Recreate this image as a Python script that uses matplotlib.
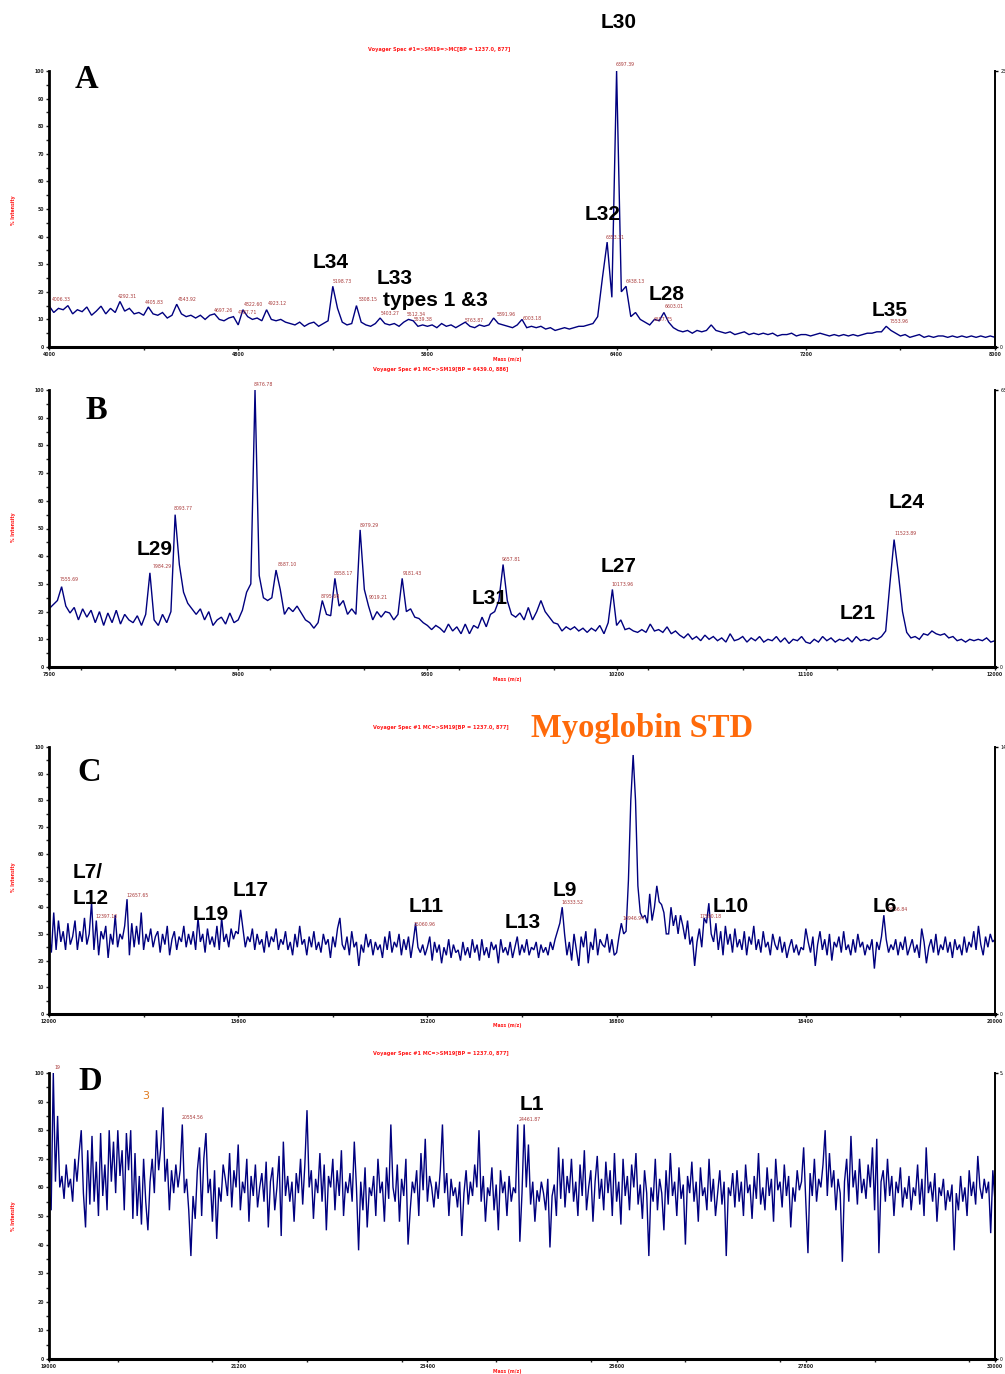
import numpy as np
import matplotlib
matplotlib.use('Agg')
import matplotlib.pyplot as plt
from matplotlib.ticker import MultipleLocator

W, H = 1005, 1374

# ---------------- data (mass start / step, % intensity) ----------------
A_START, A_STEP = 4000, 20
A_INT = [15, 12.5, 14, 13.5, 15, 12, 13.5, 12.8, 14.5, 11.5, 13, 14.8, 12, 14, 12.5, 16.5, 13, 14, 12, 12.5,
         11.5, 14.5, 12, 11.5, 12.5, 10.5, 11.5, 15.5, 12, 11, 11.5, 10.5, 11.5, 10, 11.5, 12, 10, 9.5, 10.5, 11,
         8, 13.5, 11, 10, 10.5, 9.5, 13.5, 10, 9.5, 10, 9, 8.5, 8, 9, 7.5, 8.5, 9, 7.5, 8.5, 9.5,
         22, 14, 9, 8, 8.5, 15, 9, 8, 7.5, 8.5, 10.5, 8.5, 8, 8.5, 7.5, 9, 10, 9.5, 7.5, 8,
         7.5, 8, 7, 8.5, 7.5, 8, 7, 8, 9, 7.5, 7, 8, 7.5, 8, 10.5, 8.5, 8, 7.5, 7, 8,
         10, 7, 7.5, 7, 7.5, 6.5, 7, 6, 6.5, 7, 6.5, 7, 7.5, 7.5, 8, 8.5, 11, 25, 38, 18,
         100, 20, 22, 11, 12.5, 10, 9, 8, 10, 9.5, 12.5, 9, 7, 6, 5.5, 6, 5, 6, 5.5, 6,
         8, 6, 5.5, 5, 5.5, 4.5, 5, 5.5, 4.5, 5, 4.5, 5, 4.5, 5, 4, 4.5, 4.5, 5, 4, 4.5,
         4.5, 4, 4.5, 5, 4.5, 4, 4.5, 4, 4.5, 4, 4.5, 4, 4.5, 5, 5, 5.5, 5.5, 7.5, 6, 5,
         4, 4.5, 3.5, 4, 4.5, 3.5, 4, 3.5, 4, 4, 3.5, 4, 3.5, 4, 3.5, 4, 3.5, 4, 3.5, 4,
         3.5]

B_START, B_STEP = 7500, 20
B_INT = [21, 22.5, 24, 29, 22, 19.5, 21.5, 17, 21, 18, 20.5, 16, 20, 15, 19.5, 16, 20.5, 15.5, 19, 17,
         16, 18.5, 15, 19, 34, 17, 15, 19, 16, 20, 55, 37, 27, 23, 21, 19, 21, 17, 20, 15,
         17, 18, 15.5, 19.5, 16, 17, 20.5, 27, 30, 100, 33, 25, 24, 25, 35, 28, 19, 21.5, 20, 22,
         19.5, 17, 16, 14, 16, 24, 19, 18.5, 32, 22, 24, 19, 21, 19, 49.5, 28, 22, 17, 20, 18,
         20, 19.5, 17, 19, 32, 20, 21, 18, 17.5, 16, 15, 13.5, 15, 14, 12.5, 15.5, 13, 14.5, 12, 15.5,
         12, 15, 14, 18, 14.5, 19, 20, 24, 37, 24, 19, 18, 19.5, 17, 21.5, 17, 20, 24, 20, 18,
         16, 15.5, 13, 14.5, 13.5, 14.5, 13, 14, 12.5, 14, 13, 15, 12, 16, 28, 15, 17, 13.5, 14, 13,
         12.5, 13.5, 12.5, 15.5, 13, 13.5, 12.5, 14.5, 12, 13, 11.5, 10.5, 12, 10, 11, 9.5, 11.5, 10, 11, 9.5,
         10.5, 9, 12, 9.5, 10, 11, 9, 10.5, 9.5, 11, 9, 10, 9.5, 11, 9, 10.5, 8.5, 10, 9.5, 11,
         9, 8.5, 10, 9, 11, 9.5, 10.5, 9, 10, 9.5, 10.5, 9, 11, 9.5, 10, 9.5, 10.5, 10, 11, 13,
         30, 46, 34, 20, 12.5, 10.5, 11, 10, 12, 11.5, 13, 12, 11.5, 12, 10.5, 11, 9.5, 10, 9, 10,
         9.5, 10, 9.5, 10.5, 9, 9.5]

C_START, C_STEP = 12000, 20
C_INT = [30, 23, 38, 24, 35, 27, 31, 24, 34, 26, 29, 35, 24, 31, 27, 36, 26, 30, 42, 24,
         35, 22, 31, 28, 33, 21, 30, 26, 37, 25, 30, 28, 33, 43, 22, 34, 25, 33, 26, 38,
         24, 30, 27, 32, 25, 29, 31, 23, 30, 26, 33, 22, 28, 31, 24, 29, 27, 33, 25, 30,
         26, 31, 24, 36, 27, 30, 23, 32, 26, 29, 25, 33, 24, 36, 27, 30, 25, 32, 28, 31,
         30, 39, 32, 25, 29, 27, 32, 24, 30, 26, 28, 23, 31, 25, 29, 27, 32, 24, 28, 26,
         31, 24, 27, 22, 30, 25, 33, 26, 28, 22, 29, 25, 31, 24, 27, 23, 30, 26, 28, 21,
         29, 25, 32, 36, 26, 24, 29, 22, 31, 25, 27, 18, 26, 23, 30, 25, 28, 22, 27, 24,
         26, 21, 29, 24, 31, 23, 27, 25, 30, 22, 28, 24, 29, 21, 27, 34, 25, 23, 26, 22,
         25, 29, 20, 27, 23, 26, 19, 25, 22, 28, 21, 26, 23, 24, 20, 27, 22, 25, 21, 28,
         23, 26, 20, 28, 22, 25, 21, 27, 24, 26, 19, 28, 23, 25, 22, 27, 21, 25, 29, 22,
         26, 23, 28, 22, 25, 24, 27, 21, 26, 23, 25, 22, 27, 24, 28, 31, 34, 40, 30, 22,
         27, 20, 30, 24, 18, 29, 25, 31, 19, 27, 24, 32, 22, 28, 26, 25, 30, 23, 28, 22,
         23, 29, 34, 30, 31, 50, 80, 97, 80, 48, 38, 36, 37, 34, 45, 35, 40, 48, 42, 41,
         38, 30, 30, 40, 33, 37, 30, 37, 33, 28, 35, 26, 29, 18, 27, 32, 25, 36, 34, 41.5,
         30, 27, 34, 24, 31, 22, 33, 26, 30, 23, 32, 25, 28, 24, 31, 22, 29, 26, 33, 24,
         28, 23, 31, 25, 27, 22, 30, 26, 24, 29, 23, 27, 21, 25, 28, 23, 26, 22, 25, 24,
         32, 27, 23, 29, 18, 26, 31, 24, 28, 22, 30, 20, 27, 25, 29, 23, 31, 24, 26, 22,
         28, 23, 30, 25, 27, 22, 26, 24, 28, 17, 27, 24, 29, 37, 28, 23, 26, 24, 28, 22,
         27, 24, 29, 22, 25, 28, 23, 26, 21, 32, 27, 19, 25, 28, 23, 30, 22, 26, 24, 29,
         23, 27, 21, 28, 24, 26, 22, 29, 23, 27, 25, 31, 24, 33, 26, 22, 29, 25, 30, 27, 28]

D_START, D_STEP = 19000, 25
D_INT = [59, 52, 100, 62, 85, 60, 64, 56, 68, 60, 63, 55, 70, 62, 72, 80, 58, 46, 73, 54,
         78, 55, 69, 50, 79, 57, 68, 52, 80, 62, 76, 58, 80, 64, 73, 52, 79, 66, 80, 49,
         72, 50, 64, 47, 70, 55, 45, 62, 70, 58, 80, 66, 74, 88, 62, 70, 52, 66, 58, 68,
         60, 66, 82, 58, 63, 52, 36, 57, 49, 66, 74, 50, 70, 79, 58, 63, 48, 66, 42, 60,
         55, 68, 63, 57, 72, 53, 66, 60, 75, 52, 62, 58, 70, 48, 64, 57, 68, 53, 60, 65,
         55, 69, 46, 62, 67, 52, 60, 71, 43, 76, 57, 64, 55, 62, 48, 65, 58, 70, 54, 68,
         87, 60, 66, 49, 63, 58, 72, 55, 68, 45, 64, 60, 70, 52, 66, 57, 73, 50, 62, 58,
         65, 55, 76, 60, 38, 62, 52, 67, 46, 60, 57, 64, 50, 70, 58, 62, 48, 67, 56, 82,
         60, 55, 68, 48, 63, 57, 70, 40, 52, 62, 58, 66, 50, 72, 59, 77, 55, 64, 60, 53,
         62, 56, 66, 82, 58, 65, 50, 63, 57, 60, 53, 62, 43, 58, 66, 54, 62, 57, 68, 60,
         80, 55, 64, 48, 60, 57, 67, 52, 61, 45, 66, 58, 62, 50, 64, 55, 60, 58, 82, 41,
         58, 82, 60, 75, 54, 62, 48, 59, 55, 62, 58, 52, 63, 39, 57, 61, 50, 74, 56, 70,
         53, 64, 58, 70, 55, 62, 50, 68, 57, 73, 52, 60, 66, 48, 62, 71, 56, 63, 52, 69,
         58, 66, 50, 72, 55, 62, 47, 70, 57, 64, 52, 68, 60, 72, 54, 61, 49, 66, 58, 36,
         60, 55, 70, 52, 63, 58, 45, 66, 54, 72, 57, 62, 50, 67, 56, 61, 40, 64, 58, 69,
         55, 62, 48, 67, 57, 60, 52, 70, 55, 63, 50, 58, 66, 54, 62, 36, 60, 57, 65, 53,
         66, 55, 62, 50, 68, 58, 61, 49, 64, 56, 72, 54, 60, 52, 67, 57, 63, 48, 70, 59,
         62, 53, 68, 57, 64, 46, 60, 55, 66, 59, 62, 74, 55, 37, 65, 57, 70, 55, 63, 60,
         68, 80, 57, 72, 60, 66, 52, 63, 58, 34, 62, 70, 55, 78, 60, 66, 54, 70, 58, 63,
         56, 68, 60, 74, 52, 77, 37, 62, 66, 55, 70, 57, 64, 50, 62, 58, 67, 53, 60, 56,
         64, 52, 60, 57, 68, 54, 63, 50, 74, 58, 62, 55, 65, 48, 60, 57, 63, 52, 59, 55,
         61, 38, 58, 52, 64, 55, 60, 50, 66, 57, 62, 54, 71, 60, 56, 63, 58, 62, 44, 66, 55]

# peak annotations: (label, mass, intensity)
A_PEAKS = [("4006.33", 4011, 16.4), ("4292.31", 4292, 17.4), ("4405.83", 4405, 15.3),
           ("4543.92", 4543, 16.3), ("4697.26", 4697, 12.3), ("4787.71", 4800, 11.5),
           ("4822.60", 4825, 14.5), ("4923.12", 4925, 14.9), ("5198.73", 5198, 22.9),
           ("5308.15", 5308, 16.2), ("5403.27", 5402, 11.3), ("5512.34", 5512, 10.7),
           ("5539.38", 5540, 9.2), ("5763.87", 5759, 8.8), ("5891.96", 5893, 11.0),
           ("6003.18", 6003, 9.4), ("6353.31", 6353, 38.8), ("6397.39", 6396, 101.3),
           ("6438.13", 6438, 23.0), ("6557.75", 6555, 9.2), ("6603.01", 6604, 13.6),
           ("7553.96", 7556, 8.2)]
B_PEAKS = [("7555.69", 7552, 30.8), ("7984.29", 7993, 35.4), ("8093.77", 8091, 56.3),
           ("8476.78", 8475, 101.0), ("8587.10", 8588, 36.2), ("8795.68", 8792, 24.7),
           ("8858.17", 8856, 33.0), ("8979.29", 8979, 50.3), ("9019.21", 9022, 24.2),
           ("9181.43", 9182, 32.9), ("9657.81", 9656, 38.0), ("10173.96", 10177, 29.0),
           ("11523.89", 11521, 47.4)]
C_PEAKS = [("12397.10", 12395, 35.6), ("12657.65", 12657, 43.6), ("15060.96", 15081, 32.7),
           ("16333.52", 16336, 41.0), ("16946.94", 16851, 35.0), ("17590.18", 17500, 35.7),
           ("19066.84", 19076, 38.2)]
D_PEAKS = [("19", 19062, 100.9), ("20554.56", 20543, 83.4), ("24461.87", 24457, 82.7)]

# ---------------- figure ----------------
fig = plt.figure(figsize=(W / 100, H / 100), dpi=100)
fig.patch.set_facecolor('white')


def fx(x):
    return x / W


def fy(y):
    return 1 - y / H


NAVY = '#00007F'
PEAKC = '#A83838'
RED = '#FF1A1A'


def panel(top, bottom, start, step, ints, x0, x1, major, peaks, title, title_x, title_y,
          right_label, ylab_y, xlab_y):
    ax = fig.add_axes([fx(49), fy(bottom), fx(995) - fx(49), fy(top) - fy(bottom)])
    ints = np.asarray(ints, dtype=float)
    mass = start + step * np.arange(len(ints))
    ax.plot(mass, ints, color=NAVY, lw=1.0, solid_joinstyle='miter')
    ax.set_xlim(x0, x1)
    ax.set_ylim(0, 100)
    for s in ['top', 'right']:
        ax.spines[s].set_visible(False)
    ax.spines['left'].set_linewidth(2.0)
    ax.spines['bottom'].set_linewidth(2.2)
    ax.set_xticks(np.arange(x0, x1 + 1, major))
    ax.xaxis.set_minor_locator(MultipleLocator(major / 2))
    ax.yaxis.set_major_locator(MultipleLocator(10))
    ax.yaxis.set_minor_locator(MultipleLocator(5))
    ax.tick_params(which='both', direction='out', length=2.5, width=1.0,
                   labelsize=3.3, pad=1.2, colors='#222222')
    for lbl in ax.get_xticklabels() + ax.get_yticklabels():
        lbl.set_fontweight('bold')
    ax.set_facecolor('none')
    for lab, m, v in peaks:
        ax.text(m, v, lab, fontsize=3.3, color=PEAKC, ha='left', va='bottom')
    # secondary (absolute) axis on the right
    ax2 = ax.twinx()
    ax2.set_ylim(0, 100)
    for s in ['top', 'left', 'bottom']:
        ax2.spines[s].set_visible(False)
    ax2.spines['right'].set_linewidth(1.4)
    ax2.set_yticks([0, 100])
    ax2.set_yticklabels(['0', right_label])
    ax2.tick_params(direction='out', length=2.5, width=1.0, labelsize=3.3, pad=1.2)
    # texts
    fig.text(fx(title_x), fy(title_y), title, fontsize=3.6, color=RED, fontweight='bold',
             ha='left', va='center')
    fig.text(fx(14), fy(ylab_y), '% Intensity', fontsize=3.3, color=RED, fontweight='bold',
             rotation=90, ha='center', va='center')
    fig.text(fx(507), fy(xlab_y), 'Mass (m/z)', fontsize=3.3, color=RED, fontweight='bold',
             ha='center', va='center')
    return ax


panel(71, 347, A_START, A_STEP, A_INT, 4000, 8000, 800, A_PEAKS,
      'Voyager Spec #1=>SM19=>MC[BP = 1237.0, 877]', 368, 50, '25', 210, 360)
panel(390, 667, B_START, B_STEP, B_INT, 7500, 12000, 900, B_PEAKS,
      'Voyager Spec #1 MC=>SM19[BP = 6439.0, 886]', 373, 370, '63', 527, 679)
panel(747, 1014, C_START, C_STEP, C_INT, 12000, 20000, 1600, C_PEAKS,
      'Voyager Spec #1 MC=>SM19[BP = 1237.0, 877]', 373, 727, '14', 877, 1026)
panel(1073, 1359, D_START, D_STEP, D_INT, 19000, 30000, 2200, D_PEAKS,
      'Voyager Spec #1 MC=>SM19[BP = 1237.0, 877]', 373, 1054, '5.', 1216, 1371)

# panel letters
for letter, x, y in [('A', 86, 80), ('B', 96, 410), ('C', 89, 772), ('D', 90, 1081)]:
    fig.text(fx(x), fy(y), letter, fontsize=23.5, fontweight='bold', family='Liberation Serif',
             ha='center', va='center', color='black')

fig.text(fx(642), fy(728), 'Myoglobin STD', fontsize=23.5, fontweight='bold',
         family='Liberation Serif', color='#FF6A0A', ha='center', va='center')
fig.text(fx(146), fy(1096), '3', fontsize=8, color='#E07B20', ha='center', va='center')

# band labels
LABELS = [('L30', 619, 20, 'center'), ('L34', 331, 260, 'center'), ('L33', 395, 276, 'center'),
          ('types 1 &3', 383, 299, 'left'), ('L32', 603, 212, 'center'), ('L28', 667, 292, 'center'),
          ('L35', 890, 308, 'center'), ('L29', 155, 547, 'center'), ('L31', 490, 596, 'center'),
          ('L27', 619, 564, 'center'), ('L24', 907, 500, 'center'), ('L21', 858, 612, 'center'),
          ('L7/', 73, 871, 'left'), ('L12', 73, 896, 'left'), ('L19', 211, 912, 'center'),
          ('L17', 251, 888, 'center'), ('L11', 426, 904, 'center'), ('L13', 523, 920, 'center'),
          ('L9', 565, 888, 'center'), ('L10', 731, 904, 'center'), ('L6', 885, 904, 'center'),
          ('L1', 532, 1102, 'center')]
for txt, x, y, ha in LABELS:
    fig.text(fx(x), fy(y), txt, fontsize=15, fontweight='bold', family='Liberation Sans',
             ha=ha, va='center_baseline', color='black')

fig.savefig('out.png', dpi=100, facecolor='white')
